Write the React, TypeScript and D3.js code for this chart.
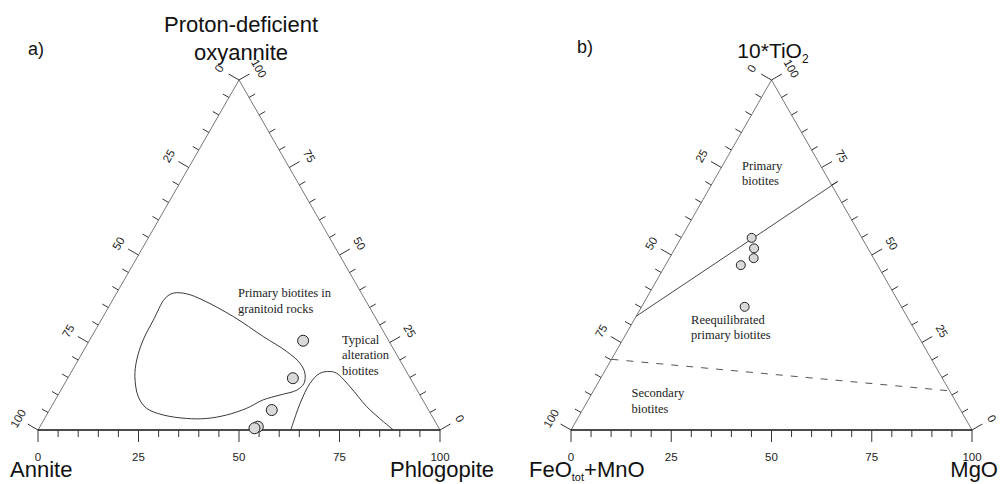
import React, { useEffect, useRef } from 'react';
import * as d3 from 'd3';

// tick labels on every side (percent)
const tickLabels = [0, 25, 50, 75, 100];

// a) values given as [phlogopite, proton-deficient oxyannite]
const samplesA = [[53.2, 25.5], [56.0, 14.8], [55.3, 5.7], [54.2, 0.95], [53.6, 0.5]];
const primaryFieldA = [
  [14.1, 39.1], [12.8, 37.6], [13.0, 31.4], [13.3, 25.7], [14.55, 20.0], [16.5, 15.2],
  [20.2, 9.5], [23.9, 6.2], [29.0, 4.3], [35.3, 3.3], [40.3, 3.3], [44.8, 4.3],
  [48.8, 6.2], [51.7, 8.6], [55.2, 10.0], [58.7, 11.4], [59.5, 13.3], [58.3, 16.2],
  [55.6, 19.1], [50.7, 22.4], [42.7, 26.7], [32.4, 32.4], [22.5, 37.1], [17.55, 38.9],
];
const alterationFieldA = [
  [62.9, 0], [61.4, 7.6], [61.0, 13.3], [62.0, 16.2], [64.3, 16.7], [66.2, 16.2],
  [71.4, 12.4], [78.4, 6.7], [84.7, 2.4], [88.4, 0],
];
const notesA = [
  { at: [30.75, 38.0], lines: ['Primary biotites in', 'granitoid rocks'] },
  { at: [63.3, 24.6], lines: ['Typical', 'alteration', 'biotites'] },
];

// b) values given as [MgO, 10*TiO2]
const samplesB = [[17.6, 54.9], [19.7, 51.9], [21.0, 49.1], [18.8, 47.1], [25.7, 35.2]];
const primaryLineB = [[0, 32.5], [31, 71]];
const secondaryLineB = [[0, 20.2], [88.8, 11.2]];
const notesB = [
  { at: [5.5, 74.3], lines: ['Primary', 'biotites'] },
  { at: [14.8, 30.3], lines: ['Reequilibrated', 'primary biotites'] },
  { at: [10.4, 9.4], lines: ['Secondary', 'biotites'] },
];

const SANS = '"Liberation Sans", Arial, sans-serif';
const SERIF = '"Liberation Serif", "Times New Roman", serif';

const App = () => {
  const svgRef = useRef<SVGSVGElement>(null);

  useEffect(() => {
    const svg = d3.select(svgRef.current);
    svg.selectAll('*').remove();

    const drawPanel = (x0: number, side: number, samples: number[][], r: number) => {
      const x = d3.scaleLinear().domain([0, 100]).range([x0, x0 + side]);
      const y = d3.scaleLinear().domain([0, 100]).range([430, 80]);
      const proj = (d: number[]): [number, number] => [x(d[0] + d[1] / 2), y(d[1])];
      const g = svg.append('g');

      // edges
      g.append('path')
        .attr('d', d3.line()([proj([0, 0]), proj([0, 100]), proj([100, 0])]))
        .attr('fill', 'none').attr('stroke', '#555').attr('stroke-width', 0.8);
      g.append('line')
        .attr('x1', x(0)).attr('x2', x(100)).attr('y1', y(0)).attr('y2', y(0))
        .attr('stroke', '#111').attr('stroke-width', 1.6);

      const sides = [
        { pos: (v: number) => proj([v, 0]), n: [0, 1], rot: 0, dist: 27 },
        { pos: (v: number) => proj([0, 100 - v]), n: [-0.866, -0.5], rot: -60, dist: 23 },
        { pos: (v: number) => proj([100 - v, v]), n: [0.866, -0.5], rot: 60, dist: 23 },
      ];
      sides.forEach((s) => {
        d3.range(0, 101, 5).forEach((v) => {
          const [px, py] = s.pos(v);
          const len = v % 25 === 0 ? 12 : 7;
          g.append('line')
            .attr('x1', px).attr('y1', py)
            .attr('x2', px + s.n[0] * len).attr('y2', py + s.n[1] * len)
            .attr('stroke', '#333').attr('stroke-width', 1);
        });
        tickLabels.forEach((v) => {
          const [px, py] = s.pos(v);
          const lx = px + s.n[0] * s.dist;
          const ly = py + s.n[1] * s.dist;
          g.append('text')
            .attr('transform', `translate(${lx},${ly}) rotate(${s.rot})`)
            .attr('text-anchor', 'middle').attr('dominant-baseline', 'central')
            .attr('font-family', SANS).attr('font-size', 11.5).attr('fill', '#222')
            .text(v);
        });
      });

      g.selectAll('circle').data(samples).enter().append('circle')
        .attr('cx', (d) => proj(d)[0]).attr('cy', (d) => proj(d)[1])
        .attr('r', r).attr('fill', '#d9d9d9').attr('stroke', '#222').attr('stroke-width', 1);

      return { g, proj };
    };

    const notes = (g: any, proj: any, list: any[]) => {
      list.forEach((n) => {
        const [px, py] = proj(n.at);
        const t = g.append('text')
          .attr('font-family', SERIF).attr('font-size', 12.5).attr('fill', '#222');
        n.lines.forEach((l: string, i: number) => {
          t.append('tspan').attr('x', px).attr('y', py + i * 15.5).text(l);
        });
      });
    };

    // panel a
    const a = drawPanel(38, 402, samplesA, 5.5);
    a.g.insert('path', 'circle')
      .attr('d', d3.line().curve(d3.curveCatmullRomClosed)(primaryFieldA.map(a.proj)))
      .attr('fill', 'none').attr('stroke', '#222').attr('stroke-width', 0.9);
    a.g.insert('path', 'circle')
      .attr('d', d3.line().curve(d3.curveCatmullRom)(alterationFieldA.map(a.proj)))
      .attr('fill', 'none').attr('stroke', '#222').attr('stroke-width', 0.9);
    notes(a.g, a.proj, notesA);

    // panel b
    const b = drawPanel(571, 401, samplesB, 4.5);
    b.g.insert('path', 'circle')
      .attr('d', d3.line()(primaryLineB.map(b.proj)))
      .attr('fill', 'none').attr('stroke', '#333').attr('stroke-width', 0.9);
    b.g.insert('path', 'circle')
      .attr('d', d3.line()(secondaryLineB.map(b.proj)))
      .attr('fill', 'none').attr('stroke', '#555').attr('stroke-width', 1)
      .attr('stroke-dasharray', '7,8');
    notes(b.g, b.proj, notesB);

    // titles and vertex names
    const label = (tx: number, ty: number, size: number, anchor: string) =>
      svg.append('text').attr('x', tx).attr('y', ty)
        .attr('font-family', SANS).attr('font-size', size).attr('fill', '#111')
        .attr('text-anchor', anchor);

    label(28, 55, 18, 'start').text('a)');
    label(577, 53, 18, 'start').text('b)');
    label(241, 32, 22, 'middle').text('Proton-deficient');
    label(241, 60, 22, 'middle').text('oxyannite');
    const ti = label(773, 58, 21, 'middle');
    ti.append('tspan').text('10*TiO');
    ti.append('tspan').attr('font-size', 12).attr('dy', 5).text('2');

    label(10, 477, 22, 'start').text('Annite');
    label(390, 477, 22, 'start').text('Phlogopite');
    const fe = label(529, 477, 22, 'start');
    fe.append('tspan').text('FeO');
    fe.append('tspan').attr('font-size', 11).attr('dy', 4).text('tot');
    fe.append('tspan').attr('dy', -4).text('+MnO');
    label(998, 477, 22, 'end').text('MgO');
  }, []);

  return (
    <svg
      ref={svgRef}
      width={1000}
      height={484}
      style={{ position: 'absolute', left: 0, top: 0, background: '#fff' }}
    />
  );
};

export default App;
